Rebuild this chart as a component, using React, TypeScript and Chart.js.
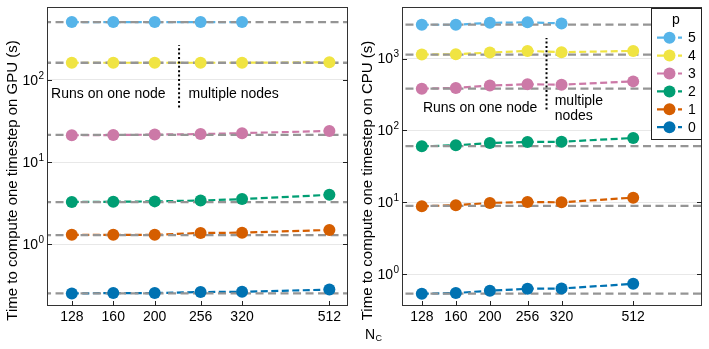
import React, { useEffect, useRef } from 'react';
import { Chart, registerables } from 'chart.js';

Chart.register(...registerables);

const FONT = "'Liberation Sans', Arial, Helvetica, sans-serif";

// Categories (N_C)
const NC = [128, 160, 200, 256, 320, 512];
const P_LABELS = ['5', '4', '3', '2', '1', '0'];
const COLORS = ['#56B4E9', '#F0E442', '#CC79A7', '#009E73', '#D55E00', '#0072B2'];

// GPU timings (s), series p = 5..0
const GPU_P5 = [507, 507, 507, 507, 507];
const GPU_P4 = [162, 162, 162, 162, 162, 164];
const GPU_P3 = [21.2, 21.3, 21.6, 21.9, 22.5, 23.9];
const GPU_P2 = [3.26, 3.29, 3.32, 3.4, 3.54, 3.99];
const GPU_P1 = [1.3, 1.3, 1.3, 1.37, 1.38, 1.49];
const GPU_P0 = [0.251, 0.254, 0.254, 0.261, 0.263, 0.28];
const GPU_REF = [507, 162, 21.4, 3.26, 1.29, 0.251];

// CPU timings (s), series p = 5..0
const CPU_P5 = [2950, 2950, 3140, 3185, 3080];
const CPU_P4 = [1135, 1150, 1210, 1277, 1225, 1277];
const CPU_P3 = [381, 390, 420, 438, 433, 481];
const CPU_P2 = [60.1, 62.1, 66.8, 69.0, 69.6, 78.5];
const CPU_P1 = [8.81, 9.1, 9.81, 10.1, 10.0, 11.6];
const CPU_P0 = [0.535, 0.547, 0.589, 0.627, 0.633, 0.734];
const CPU_REF = [2960, 1135, 381, 60.6, 8.9, 0.535];

// Axis tick values
const GPU_DECADES = [1, 10, 100];
const GPU_EXPONENTS = ['0', '1', '2'];
const CPU_DECADES = [1, 10, 100, 1000];
const CPU_EXPONENTS = ['0', '1', '2', '3'];

// Annotation values
const GPU_DIVIDER_X = 228;
const GPU_DIVIDER_Y = [46.3, 267];
const CPU_DIVIDER_X = 290;
const CPU_DIVIDER_Y = [195, 1932];

const LEFT_TEXT = 'Runs on one node';
const RIGHT_TEXT_GPU = ['multiple nodes'];
const RIGHT_TEXT_CPU = ['multiple', 'nodes'];

type Panel = {
  series: number[][];
  refs: number[];
  xMin: number; xMax: number;
  yMin: number; yMax: number;
  decades: number[];
  exponents: string[];
  title: string;
  divX: number; divY: number[];
  leftTextX: number; rightTextX: number; textY: number;
  rightText: string[];
  legend: boolean;
  xlabel: boolean;
};

const GPU_PANEL: Panel = {
  series: [GPU_P5, GPU_P4, GPU_P3, GPU_P2, GPU_P1, GPU_P0],
  refs: GPU_REF,
  xMin: 112, xMax: 566, yMin: 0.1766, yMax: 769,
  decades: GPU_DECADES, exponents: GPU_EXPONENTS,
  title: 'Time to compute one timestep on GPU (s)',
  divX: GPU_DIVIDER_X, divY: GPU_DIVIDER_Y,
  leftTextX: 212, rightTextX: 240, textY: 68,
  rightText: RIGHT_TEXT_GPU,
  legend: false, xlabel: false,
};

const CPU_PANEL: Panel = {
  series: [CPU_P5, CPU_P4, CPU_P3, CPU_P2, CPU_P1, CPU_P0],
  refs: CPU_REF,
  xMin: 112.4, xMax: 804, yMin: 0.361, yMax: 5176,
  decades: CPU_DECADES, exponents: CPU_EXPONENTS,
  title: 'Time to compute one timestep on CPU (s)',
  divX: CPU_DIVIDER_X, divY: CPU_DIVIDER_Y,
  leftTextX: 273, rightTextX: 306, textY: 204,
  rightText: RIGHT_TEXT_CPU,
  legend: true, xlabel: true,
};

const LINE_DASH = [7, 3.5];
const REF_DASH = [8, 4.5];
const MARKER_R = 6;

function toPts(vals: number[]) {
  return vals.map((v, i) => ({ x: NC[i], y: v }));
}

function makePlugin(p: Panel) {
  return {
    id: 'decor',
    afterDraw(chart: any) {
      const { ctx, chartArea: a } = chart;
      const xs = chart.scales.x;
      const ys = chart.scales.y;
      ctx.save();
      // frame
      ctx.strokeStyle = '#333';
      ctx.lineWidth = 1;
      ctx.setLineDash([]);
      ctx.strokeRect(Math.round(a.left) + 0.5, Math.round(a.top) + 0.5, Math.round(a.right - a.left) - 1, Math.round(a.bottom - a.top) - 1);
      // inward ticks
      ctx.strokeStyle = '#222';
      ctx.beginPath();
      p.decades.forEach((v) => {
        const py = Math.round(ys.getPixelForValue(v)) + 0.5;
        ctx.moveTo(a.left, py); ctx.lineTo(a.left + 5, py);
        ctx.moveTo(a.right - 5, py); ctx.lineTo(a.right, py);
      });
      NC.forEach((v) => {
        const px = Math.round(xs.getPixelForValue(v)) + 0.5;
        ctx.moveTo(px, a.bottom); ctx.lineTo(px, a.bottom - 5);
      });
      ctx.stroke();
      // y tick labels with superscripts
      ctx.fillStyle = '#000';
      p.decades.forEach((v, i) => {
        const py = ys.getPixelForValue(v);
        ctx.font = `14px ${FONT}`;
        ctx.textAlign = 'right';
        ctx.textBaseline = 'middle';
        const baseRight = a.left - 9;
        ctx.fillText('10', baseRight, py + 1);
        ctx.font = `10px ${FONT}`;
        ctx.textAlign = 'left';
        ctx.fillText(p.exponents[i], baseRight + 0.5, py - 4);
      });
      // y axis title
      ctx.save();
      ctx.translate(13, 180.5);
      ctx.rotate(-Math.PI / 2);
      ctx.font = `15px ${FONT}`;
      ctx.textAlign = 'center';
      ctx.textBaseline = 'middle';
      ctx.fillText(p.title, 0, 0);
      ctx.restore();
      // annotations
      ctx.font = `14px ${FONT}`;
      ctx.textBaseline = 'middle';
      ctx.textAlign = 'right';
      const ty = ys.getPixelForValue(p.textY);
      ctx.fillText(LEFT_TEXT, xs.getPixelForValue(p.leftTextX), ty);
      ctx.textAlign = 'left';
      const n = p.rightText.length;
      p.rightText.forEach((t, i) => {
        ctx.fillText(t, xs.getPixelForValue(p.rightTextX), ty + (i - (n - 1) / 2) * 15);
      });
      // legend
      if (p.legend) {
        const bw = 51, bh = 132;
        const bx = Math.round(a.right) - bw;
        const by = Math.round(a.top) + 1;
        ctx.fillStyle = '#fff';
        ctx.fillRect(bx, by, bw, bh);
        ctx.strokeStyle = '#222';
        ctx.lineWidth = 1;
        ctx.strokeRect(bx + 0.5, by + 0.5, bw - 1, bh - 1);
        ctx.fillStyle = '#000';
        ctx.font = `14px ${FONT}`;
        ctx.textAlign = 'center';
        ctx.textBaseline = 'middle';
        ctx.fillText('p', bx + 25, by + 12);
        P_LABELS.forEach((lab, k) => {
          const ey = by + 29.7 + k * 17.9;
          ctx.strokeStyle = COLORS[k];
          ctx.lineWidth = 2.2;
          ctx.setLineDash(LINE_DASH);
          ctx.beginPath();
          ctx.moveTo(bx + 6, ey); ctx.lineTo(bx + 31, ey);
          ctx.stroke();
          ctx.setLineDash([]);
          ctx.fillStyle = COLORS[k];
          ctx.beginPath();
          ctx.arc(bx + 18.5, ey, MARKER_R, 0, Math.PI * 2);
          ctx.fill();
          ctx.fillStyle = '#000';
          ctx.textAlign = 'left';
          ctx.fillText(lab, bx + 37, ey + 0.5);
        });
      }
      // shared x label
      if (p.xlabel) {
        ctx.fillStyle = '#000';
        ctx.textAlign = 'left';
        ctx.textBaseline = 'alphabetic';
        ctx.font = `14px ${FONT}`;
        ctx.fillText('N', 10, 339);
        ctx.font = `9px ${FONT}`;
        ctx.fillText('C', 20.5, 341);
      }
      ctx.restore();
    },
  };
}

function buildConfig(p: Panel): any {
  const datasets: any[] = [];
  p.series.forEach((vals, i) => {
    datasets.push({
      data: toPts(vals), borderColor: COLORS[i], borderWidth: 2.2, borderDash: LINE_DASH,
      pointRadius: 0, fill: false, tension: 0, order: 3,
    });
  });
  p.refs.forEach((r) => {
    datasets.push({
      data: [{ x: p.xMin * 0.8, y: r }, { x: p.xMax * 1.2, y: r }], borderColor: '#959595', borderWidth: 2.3,
      borderDash: REF_DASH, pointRadius: 0, fill: false, order: 2,
    });
  });
  p.series.forEach((vals, i) => {
    datasets.push({
      data: toPts(vals), showLine: false, pointRadius: MARKER_R, pointBackgroundColor: COLORS[i],
      pointBorderWidth: 0, borderColor: COLORS[i], order: 1,
    });
  });
  datasets.push({
    data: [{ x: p.divX, y: p.divY[0] }, { x: p.divX, y: p.divY[1] }], borderColor: '#000', borderWidth: 2,
    borderDash: [2, 2.4], pointRadius: 0, fill: false, order: 0,
  });
  return {
    type: 'line',
    data: { datasets },
    options: {
      animation: false,
      responsive: false,
      maintainAspectRatio: false,
      events: [],
      layout: { padding: { top: 5, right: 7, bottom: 0, left: 0 } },
      plugins: { legend: { display: false }, tooltip: { enabled: false } },
      scales: {
        x: {
          type: 'logarithmic', min: p.xMin, max: p.xMax,
          afterBuildTicks: (s: any) => { s.ticks = NC.map((v) => ({ value: v })); },
          afterFit: (s: any) => { s.height = 43; },
          grid: { display: false, drawTicks: false },
          border: { display: false },
          ticks: {
            callback: (v: any) => String(v), font: { family: FONT, size: 14 }, color: '#000',
            padding: 3, maxRotation: 0, autoSkip: false,
          },
        },
        y: {
          type: 'logarithmic', min: p.yMin, max: p.yMax,
          afterBuildTicks: (s: any) => { s.ticks = p.decades.map((v) => ({ value: v })); },
          afterFit: (s: any) => { s.width = 47; },
          grid: { color: '#e8e8e8', lineWidth: 1, drawTicks: false },
          border: { display: false },
          ticks: { callback: () => '', padding: 0 },
          title: { display: false },
        },
      },
    },
    plugins: [makePlugin(p)],
  };
}

function Panel({ panel, left, width }: { panel: Panel; left: number; width: number }) {
  const ref = useRef<HTMLCanvasElement | null>(null);
  useEffect(() => {
    if (!ref.current) return;
    const chart = new Chart(ref.current, buildConfig(panel));
    return () => chart.destroy();
  }, [panel]);
  return (
    <canvas
      ref={ref}
      width={width}
      height={349}
      style={{ position: 'absolute', left, top: 0, width, height: 349 }}
    />
  );
}

export default function App() {
  return (
    <div style={{ position: 'absolute', left: 0, top: 0, width: 709, height: 349, background: '#fff' }}>
      <Panel panel={GPU_PANEL} left={0} width={355} />
      <Panel panel={CPU_PANEL} left={355} width={354} />
    </div>
  );
}
